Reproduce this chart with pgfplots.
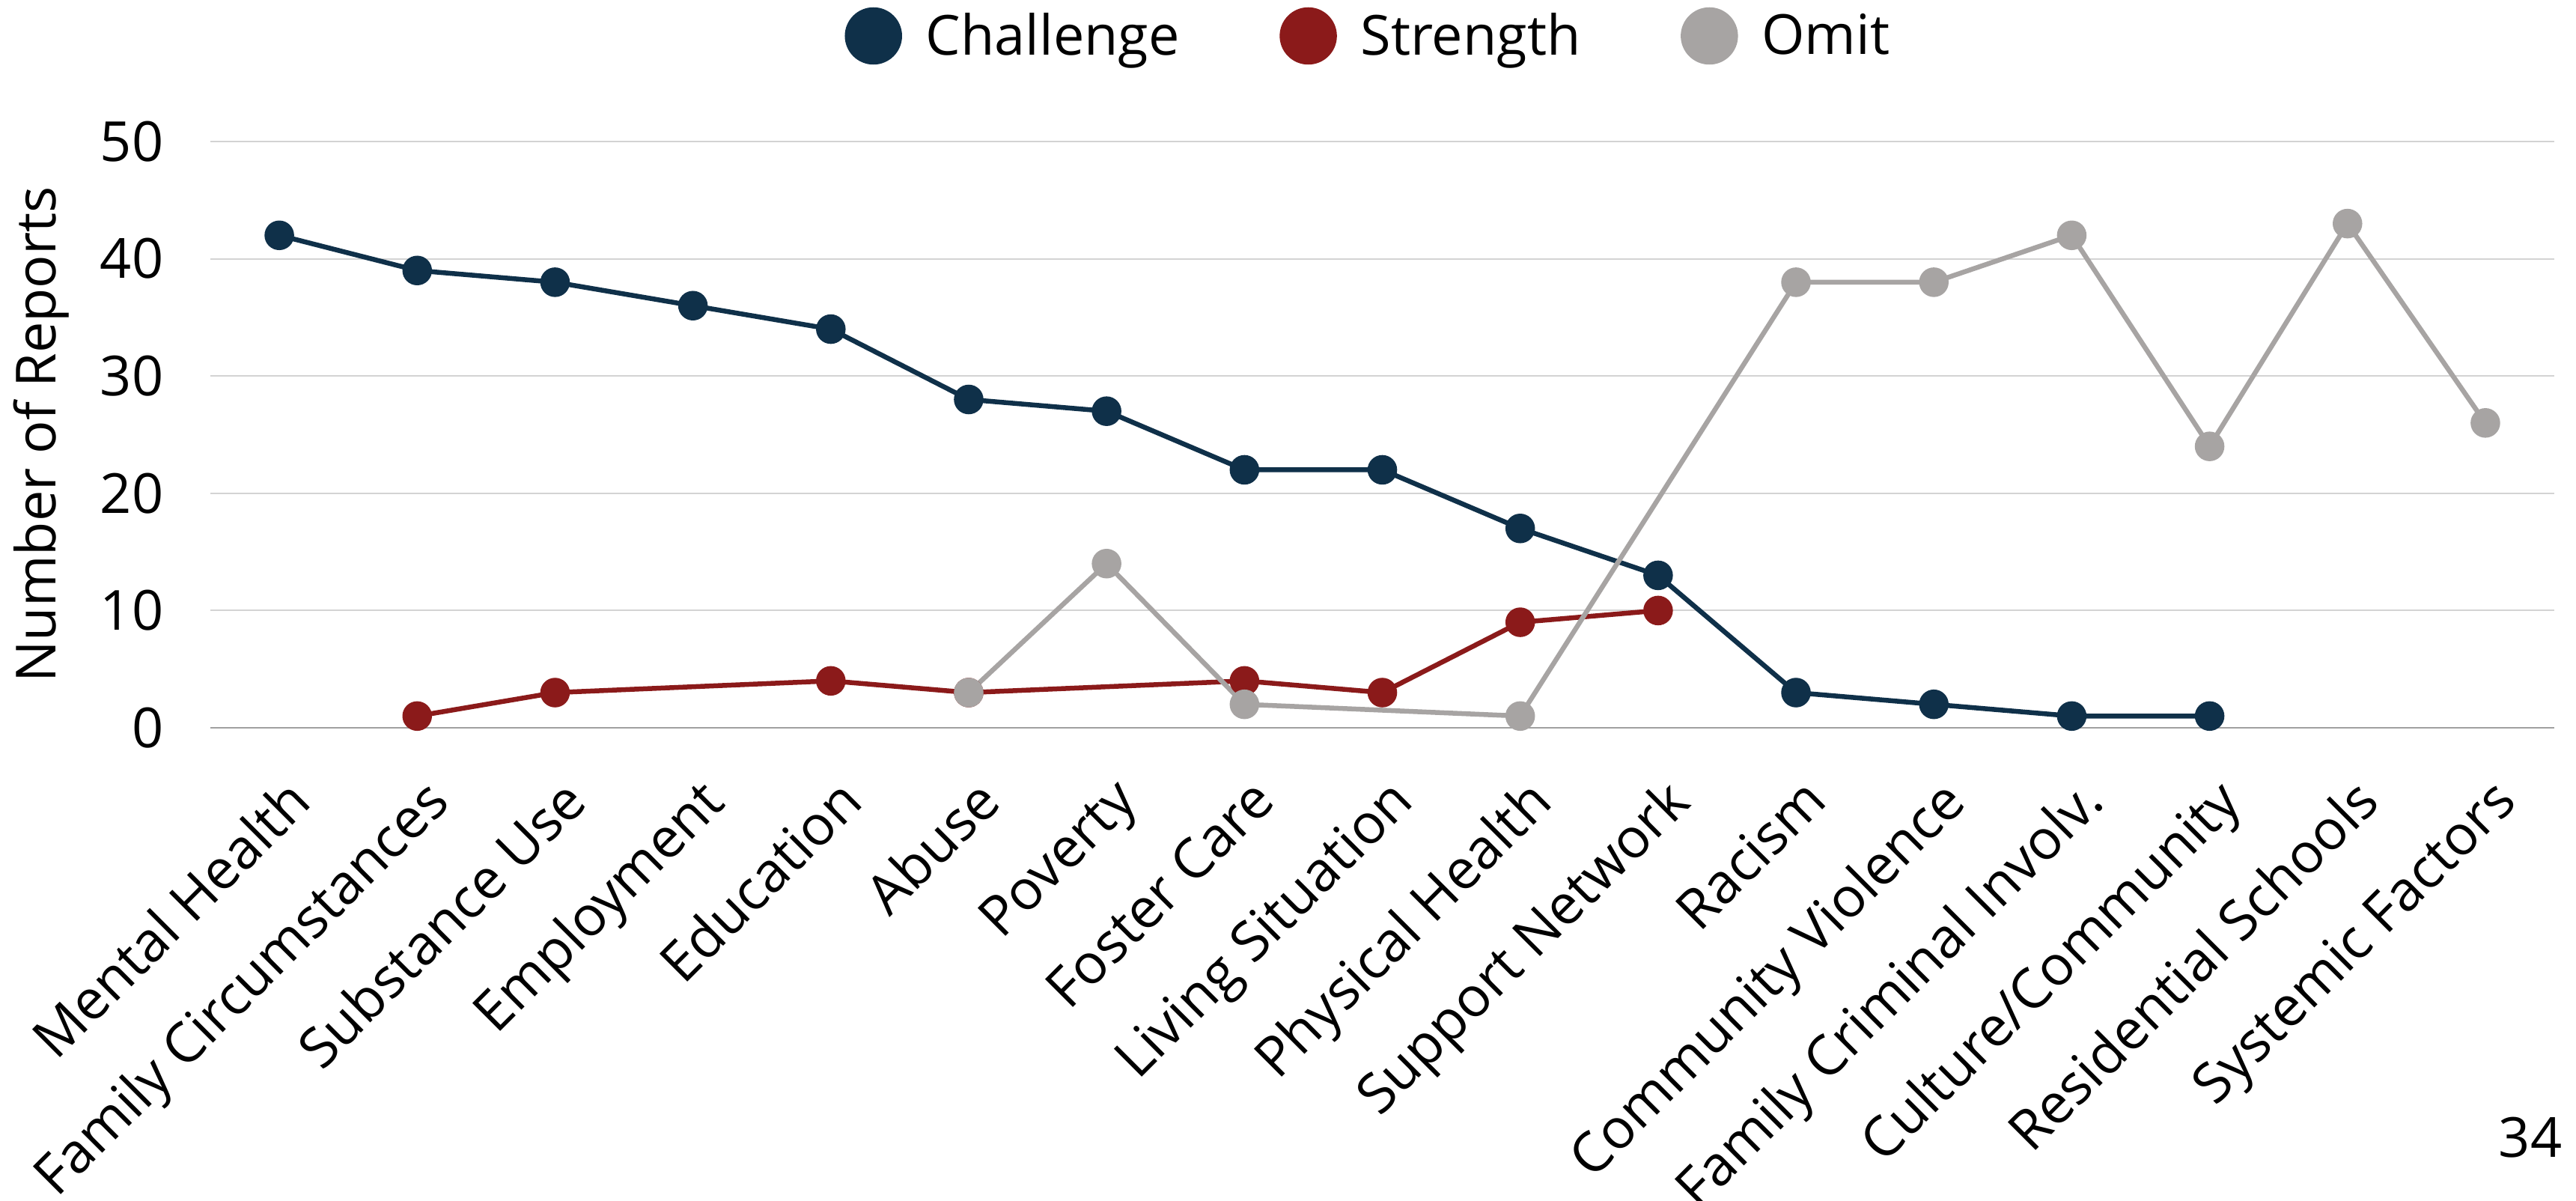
\documentclass[border=0pt]{standalone}
\usepackage{fontspec}
\setmainfont{Open Sans}
\usepackage{pgfplots}
\pgfplotsset{compat=1.18}
\usetikzlibrary{calc}
\definecolor{cChal}{HTML}{0F3049}
\definecolor{cStr}{HTML}{8B1A1A}
\definecolor{cOmit}{HTML}{A7A4A3}
\definecolor{cGrid}{HTML}{D3D3D3}
\definecolor{cAxis}{HTML}{A0A0A0}
\newcommand{\fs}{\fontsize{21}{25}\selectfont}
\begin{document}
\begin{tikzpicture}
\begin{axis}[
  scale only axis,
  width=313.1mm, height=78.3mm,
  xmin=-0.5, xmax=16.5,
  ymin=0, ymax=50,
  clip=false,
  axis x line*=bottom, axis y line*=left,
  x axis line style={draw=cAxis, line width=0.25mm},
  y axis line style={draw=none},
  tick style={draw=none},
  ytick={0,10,20,30,40,50},
  xtick={0,...,16},
  xticklabels={Mental Health, Family Circumstances, Substance Use, Employment, Education, Abuse, Poverty, Foster Care, Living Situation, Physical Health, Support Network, Racism, Community Violence, Family Criminal Involv., Culture/Community, Residential Schools, Systemic Factors},
  x tick label style={font=\fs, xshift=0.6mm, yshift=-4.8mm, rotate=45, anchor=north east, inner sep=1mm},
  y tick label style={font=\fs, inner sep=0pt, xshift=-6.2mm},
  /pgf/number format/assume math mode=true,
  ymajorgrids, grid style={draw=cGrid, line width=0.2mm},
  ylabel={Number of Reports},
  ylabel style={font=\fs, at={(axis description cs:-0.0722,0.5)}, anchor=center},
  legend columns=3,
  legend style={draw=none, fill=none, font=\fs, at={(axis description cs:0.5,1)}, anchor=center, yshift=14.1mm, xshift=-1.5mm,
    /tikz/every odd column/.append style={column sep=2.8mm},
    /tikz/every even column/.append style={column sep=13mm}},
  legend cell align=left,
  every axis plot/.append style={line width=0.65mm},
]
\addlegendimage{only marks, mark=*, mark size=3.5mm, color=cChal}
\addlegendentry{Challenge}
\addlegendimage{only marks, mark=*, mark size=3.5mm, color=cStr}
\addlegendentry{Strength}
\addlegendimage{only marks, mark=*, mark size=3.5mm, color=cOmit}
\addlegendentry{Omit}
\addplot[forget plot, color=cChal, mark=*, mark size=1.65mm] coordinates {
(0,42) (1,39) (2,38) (3,36) (4,34) (5,28) (6,27) (7,22) (8,22) (9,17) (10,13) (11,3) (12,2) (13,1) (14,1)};
\addplot[forget plot, color=cStr, mark=*, mark size=1.65mm] coordinates {
(1,1) (2,3) (4,4) (5,3) (7,4) (8,3) (9,9) (10,10)};
\addplot[forget plot, color=cOmit, mark=*, mark size=1.65mm] coordinates {
(5,3) (6,14) (7,2) (9,1) (11,38) (12,38) (13,42) (14,24) (15,43) (16,26)};
\coordinate (bl) at (rel axis cs:0,0);
\coordinate (tr) at (rel axis cs:1,1);
\node[font=\fs, anchor=center] at ($(rel axis cs:1,0)+(-3.2mm,-54.7mm)$) {34};
\end{axis}
\pgfresetboundingbox
\useasboundingbox ($(bl)+(-28.1mm,-63.2mm)$) rectangle ($(tr)+(2.9mm,18.9mm)$);
\end{tikzpicture}
\end{document}
